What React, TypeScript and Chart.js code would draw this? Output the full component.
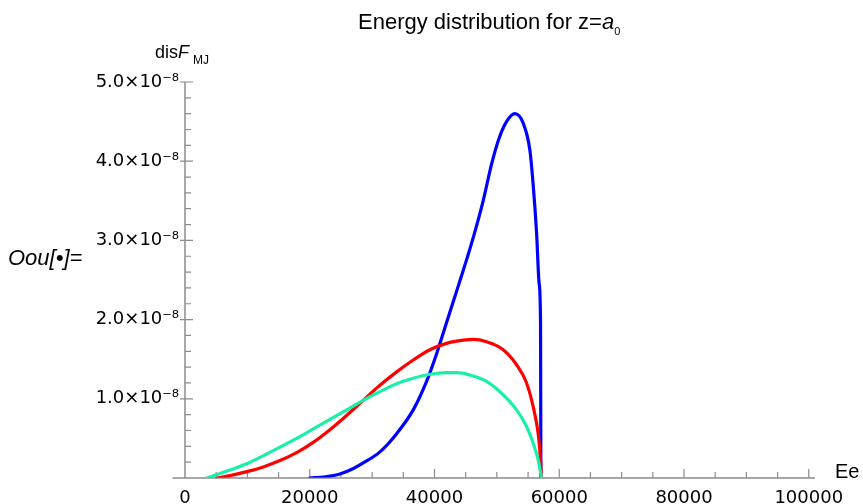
import React, { useEffect, useRef } from "react";
import { Chart, registerables } from "chart.js";

Chart.register(...registerables);

// Energy values (Ee) and distribution values (units of 1e-8)
const blueX = [20000, 22500, 24840, 27000, 28570, 31250, 33930, 36590, 38730, 40340, 42000, 44000, 45200, 46300, 47800, 49200, 50400, 51550, 52880, 54220, 55290, 55820, 56360, 56780, 57000, 57050];
const blueY = [0, 0.015, 0.05, 0.12, 0.19, 0.33, 0.56, 0.86, 1.22, 1.57, 1.98, 2.47, 2.77, 3.06, 3.5, 3.98, 4.3, 4.5, 4.6, 4.48, 4.14, 3.7, 3.1, 2.45, 1.95, 0];

const redX = [5080, 7210, 9890, 12550, 15220, 17900, 20560, 23240, 25910, 28570, 31250, 33930, 36590, 39260, 41940, 44600, 46200, 48350, 51010, 53160, 54760, 55820, 56620, 57000, 57150];
const redY = [0, 0.03, 0.08, 0.14, 0.22, 0.32, 0.45, 0.61, 0.79, 0.98, 1.17, 1.34, 1.49, 1.62, 1.7, 1.74, 1.75, 1.72, 1.62, 1.43, 1.2, 0.9, 0.56, 0.23, 0];

const greenX = [3470, 5000, 7210, 9890, 12550, 15220, 17900, 20560, 23240, 25910, 28570, 31250, 33930, 36590, 39260, 41940, 43540, 45670, 48350, 51010, 53160, 54760, 55820, 56620, 57000, 57150];
const greenY = [0, 0.04, 0.1, 0.18, 0.28, 0.39, 0.5, 0.62, 0.74, 0.86, 0.98, 1.09, 1.19, 1.26, 1.31, 1.33, 1.33, 1.3, 1.22, 1.05, 0.86, 0.65, 0.44, 0.23, 0.07, 0];

const baseX = [2000, 100000];
const baseY = [0, 0];

const xTickValues = [0, 20000, 40000, 60000, 80000, 100000];
const yTickValues = [1, 2, 3, 4, 5];
const yTickLabels = ["1.0×10⁻⁸", "2.0×10⁻⁸", "3.0×10⁻⁸", "4.0×10⁻⁸", "5.0×10⁻⁸"];

const toPts = (xs: number[], ys: number[]) => xs.map((x, i) => ({ x, y: ys[i] }));

const AXIS = "#8c8c8c";

const axesPlugin = {
  id: "mmaAxes",
  beforeDatasetsDraw(chart: any) {
    const { ctx } = chart;
    const xs = chart.scales.x;
    const ys = chart.scales.y;
    const x0 = xs.getPixelForValue(0);
    const y0 = ys.getPixelForValue(0);
    ctx.save();
    ctx.strokeStyle = AXIS;
    ctx.lineWidth = 1.5;
    ctx.beginPath();
    ctx.moveTo(xs.getPixelForValue(-2000), y0);
    ctx.lineTo(xs.getPixelForValue(101000), y0);
    ctx.moveTo(x0, y0);
    ctx.lineTo(x0, ys.getPixelForValue(5));
    ctx.stroke();
    ctx.lineWidth = 1.2;
    ctx.beginPath();
    for (let v = 5000; v <= 100000; v += 5000) {
      const p = xs.getPixelForValue(v);
      const len = v % 20000 === 0 ? 9 : 6;
      ctx.moveTo(p, y0);
      ctx.lineTo(p, y0 - len);
    }
    for (let k = 1; k <= 25; k++) {
      const v = k * 0.2;
      const p = ys.getPixelForValue(v);
      if (k % 5 === 0) {
        ctx.moveTo(x0 - 5, p);
        ctx.lineTo(x0 + 8, p);
      } else {
        ctx.moveTo(x0, p);
        ctx.lineTo(x0 + 6, p);
      }
    }
    ctx.stroke();
    ctx.restore();
  },
};

export default function App() {
  const ref = useRef<HTMLCanvasElement | null>(null);
  useEffect(() => {
    if (!ref.current) return;
    const line = (color: string, xs: number[], ys: number[]) => ({
      data: toPts(xs, ys),
      borderColor: color,
      borderWidth: 3.2,
      pointRadius: 0,
      cubicInterpolationMode: "monotone" as const,
    });
    const chart = new Chart(ref.current, {
      type: "line",
      data: {
        datasets: [
          { data: toPts(baseX, baseY), borderColor: "rgba(140,160,235,0.55)", borderWidth: 1.5, pointRadius: 0 },
          line("#1aefaa", greenX, greenY),
          line("#ff0000", redX, redY),
          line("#0000ff", blueX, blueY),
        ],
      },
      options: {
        responsive: false,
        animation: false,
        layout: { padding: { left: 0, top: 82, right: 48, bottom: 0 } },
        plugins: { legend: { display: false }, tooltip: { enabled: false }, title: { display: false } },
        elements: { line: { borderCapStyle: "round", borderJoinStyle: "round" } },
        scales: {
          x: {
            type: "linear",
            min: 0,
            max: 101000,
            grid: { display: false, drawTicks: false },
            border: { display: false },
            afterFit: (s: any) => { s.height = 26; },
            afterBuildTicks: (s: any) => { s.ticks = xTickValues.map((v) => ({ value: v })); },
            ticks: {
              autoSkip: false,
              maxRotation: 0,
              padding: 10,
              color: "#000",
              font: { family: "'DejaVu Sans'", size: 18 },
              callback: (v: any) => String(v),
            },
          },
          y: {
            type: "linear",
            min: 0,
            max: 5,
            grid: { display: false, drawTicks: false },
            border: { display: false },
            afterFit: (s: any) => { s.width = 185; },
            afterBuildTicks: (s: any) => { s.ticks = yTickValues.map((v) => ({ value: v })); },
            ticks: {
              autoSkip: false,
              padding: 6,
              color: "#000",
              font: { family: "'DejaVu Sans'", size: 18 },
              callback: (v: any) => yTickLabels[yTickValues.indexOf(Number(v))] ?? "",
            },
          },
        },
      },
      plugins: [axesPlugin],
    });
    return () => chart.destroy();
  }, []);

  const base: React.CSSProperties = { position: "absolute", whiteSpace: "nowrap", fontFamily: "'Liberation Sans', Arial, sans-serif", color: "#000" };

  return (
    <div style={{ position: "absolute", left: 0, top: 0, width: 863, height: 504, background: "#fff" }}>
      <canvas ref={ref} width={863} height={504} style={{ position: "absolute", left: 0, top: 0 }} />
      <div style={{ ...base, left: 358, top: 11, fontSize: 22, lineHeight: "22px" }}>
        Energy distribution for z=<i>a</i>
        <span style={{ fontSize: 11, position: "relative", top: 6 }}>0</span>
      </div>
      <div style={{ ...base, left: 155, top: 43, fontSize: 18, lineHeight: "18px" }}>
        dis<i>F</i>
        <span style={{ fontSize: 12, position: "relative", top: 6, marginLeft: 4 }}>MJ</span>
      </div>
      <div style={{ ...base, left: 8, top: 247, fontSize: 22, lineHeight: "22px", fontStyle: "italic" }}>
        Oou[•]=
      </div>
      <div style={{ ...base, left: 835, top: 461, fontSize: 20, lineHeight: "20px" }}>Ee</div>
    </div>
  );
}
